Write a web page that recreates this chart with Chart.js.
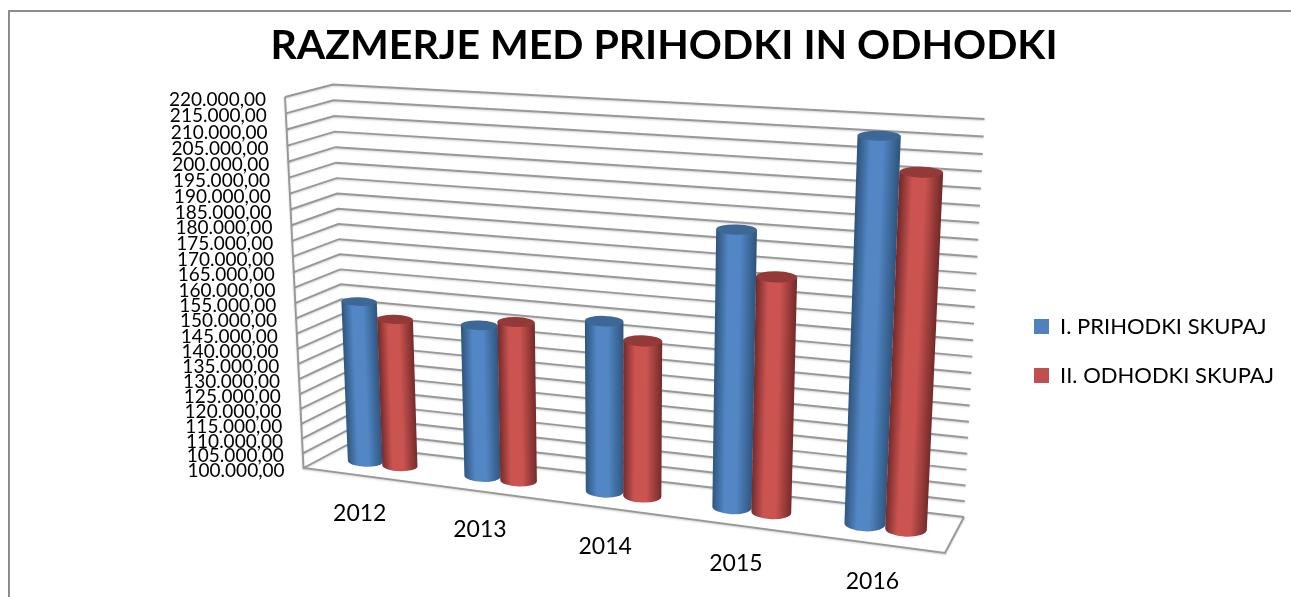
<!DOCTYPE html>
<html>
<head>
<meta charset="utf-8">
<title>Razmerje med prihodki in odhodki</title>
<script src="https://cdn.jsdelivr.net/npm/chart.js@4/dist/chart.umd.min.js"></script>
<style>
  html, body { margin: 0; width: 1291px; height: 597px; overflow: hidden; background: #fff; }
  .frame { position: absolute; left: 8px; top: 10px; width: 1400px; height: 700px; border: 2px solid #8c8c8c; }
  #chart { position: absolute; left: 0; top: 0; }
</style>
</head>
<body>
<div class="frame"></div>
<canvas id="chart" width="1291" height="597"></canvas>
<script>
// ===== DATA =====
const years = ["2012", "2013", "2014", "2015", "2016"];
const prihodki = [153700, 149800, 155000, 186700, 217000];
const odhodki = [149000, 152000, 150000, 173500, 207400];
const axisMin = 100000;
const axisMax = 220000;
const axisStep = 5000;

const FONT = "Lato, Carlito, sans-serif";
const BLUE = { legend: "#4f81bd", edge: "#2f5680", mid: "#5286c4", cap: "#3c6796" };
const RED = { legend: "#c0504d", edge: "#752b2a", mid: "#cb5451", cap: "#933a38" };

// corners of the 3D box on screen: top-left, top-right, bottom-right, bottom-left
const frontQuad = [[285, 97], [965, 143], [945, 553], [303.5, 468]];
const backQuad = [[333, 84.5], [984.5, 119], [964, 517], [347, 445]];

function makeHomography(q) {
  const [[x0, y0], [x1, y1], [x2, y2], [x3, y3]] = q;
  const dx1 = x1 - x2, dx2 = x3 - x2, sx = x0 - x1 + x2 - x3;
  const dy1 = y1 - y2, dy2 = y3 - y2, sy = y0 - y1 + y2 - y3;
  const det = dx1 * dy2 - dx2 * dy1;
  const g = (sx * dy2 - dx2 * sy) / det;
  const h = (dx1 * sy - sx * dy1) / det;
  return (s, t) => {
    const w = g * s + h * t + 1;
    return {
      x: ((x1 - x0 + g * x1) * s + (x3 - x0 + h * x3) * t + x0) / w,
      y: ((y1 - y0 + g * y1) * s + (y3 - y0 + h * y3) * t + y0) / w,
    };
  };
}
const frontPlane = makeHomography(frontQuad);
const backPlane = makeHomography(backQuad);

// chart pixel + depth (0 front, 1 back) -> screen pixel
function project(area, px, py, depth) {
  const s = (px - area.left) / area.width;
  const t = (py - area.top) / area.height;
  const f = frontPlane(s, t);
  const b = backPlane(s, t);
  return { x: f.x + (b.x - f.x) * depth, y: f.y + (b.y - f.y) * depth };
}

function strokeLine(ctx, pts) {
  ctx.beginPath();
  pts.forEach((p, i) => (i ? ctx.lineTo(p.x, p.y) : ctx.moveTo(p.x, p.y)));
  ctx.stroke();
}

function drawBox(chart) {
  const { ctx, chartArea: a, scales } = chart;
  ctx.save();
  ctx.strokeStyle = "#989898";
  ctx.lineWidth = 1.9;
  ctx.shadowColor = "rgba(0,0,0,0.18)";
  ctx.shadowBlur = 2;
  ctx.shadowOffsetY = 1;
  scales.y.ticks.forEach((tick) => {
    const y = scales.y.getPixelForValue(tick.value);
    strokeLine(ctx, [project(a, a.left, y, 0), project(a, a.left, y, 1), project(a, a.right, y, 1)]);
  });
  strokeLine(ctx, [project(a, a.left, a.top, 0), project(a, a.left, a.bottom, 0), project(a, a.right, a.bottom, 0), project(a, a.right, a.bottom, 1)]);
  ctx.restore();
}

function drawCylinder(chart, el, colors) {
  const { ctx, chartArea: a } = chart;
  const hw = el.width / 2;
  const ends = (py) => {
    const l = project(a, el.x - hw, py, 0.5), r = project(a, el.x + hw, py, 0.5);
    // the caps are almost level in the picture, whatever the floor slope is
    const ang = Math.atan2(r.y - l.y, r.x - l.x) * 0.3;
    const rad = Math.hypot(r.x - l.x, r.y - l.y) / 2;
    const c = { x: (l.x + r.x) / 2, y: (l.y + r.y) / 2 };
    const ry = 0.22 * Math.abs(project(a, el.x, py, 1).y - project(a, el.x, py, 0).y);
    return {
      c, ang, rad, ry,
      l: { x: c.x - rad * Math.cos(ang), y: c.y - rad * Math.sin(ang) },
      r: { x: c.x + rad * Math.cos(ang), y: c.y + rad * Math.sin(ang) },
    };
  };
  const top = ends(el.y);
  const bot = ends(el.base);

  // gradient runs across the tilted cylinder axis
  const ax = top.c.x - bot.c.x, ay = top.c.y - bot.c.y, len = Math.hypot(ax, ay);
  const nx = -ay / len, ny = ax / len;
  const grad = ctx.createLinearGradient(bot.c.x - nx * bot.rad, bot.c.y - ny * bot.rad, bot.c.x + nx * bot.rad, bot.c.y + ny * bot.rad);
  grad.addColorStop(0, colors.edge);
  grad.addColorStop(0.3, colors.mid);
  grad.addColorStop(0.6, colors.mid);
  grad.addColorStop(1, colors.edge);

  ctx.save();
  ctx.beginPath();
  ctx.moveTo(top.r.x, top.r.y);
  ctx.lineTo(bot.r.x, bot.r.y);
  ctx.ellipse(bot.c.x, bot.c.y, bot.rad, bot.ry, bot.ang, 0, Math.PI);
  ctx.lineTo(top.l.x, top.l.y);
  ctx.closePath();
  ctx.fillStyle = grad;
  ctx.fill();
  ctx.beginPath();
  ctx.ellipse(top.c.x, top.c.y, top.rad, top.ry, top.ang, 0, Math.PI * 2);
  ctx.fillStyle = colors.cap;
  ctx.fill();
  ctx.restore();
}

function drawAxisLabels(chart) {
  const { ctx, chartArea: a, scales } = chart;
  ctx.save();
  ctx.fillStyle = "#000";
  ctx.font = "19px " + FONT;
  ctx.textAlign = "right";
  ctx.textBaseline = "middle";
  scales.y.ticks.forEach((tick) => {
    const p = project(a, a.left, scales.y.getPixelForValue(tick.value), 0);
    ctx.fillText(tick.label, p.x - 19, p.y + 3);
  });
  ctx.textAlign = "center";
  ctx.font = "23px " + FONT;
  scales.x.ticks.forEach((tick, i) => {
    const p = project(a, scales.x.getPixelForTick(i), a.bottom, 0);
    ctx.fillText(tick.label, p.x - 2, p.y + 38);
  });
  ctx.restore();
}

const box3d = {
  id: "box3d",
  afterLayout(chart) {
    // title sits right of the canvas centre, the frame runs off the picture
    chart.titleBlock.left = 55;
    const lg = chart.legend;
    lg.left = 1007;
    lg.right = 1291;
    lg.width = 284;
    lg.top += 72;
    lg.bottom += 72;
  },
  beforeDatasetsDraw(chart) {
    drawBox(chart);
    const looks = [BLUE, RED];
    years.forEach((_, j) => {
      chart.data.datasets.forEach((_, i) => drawCylinder(chart, chart.getDatasetMeta(i).data[j], looks[i]));
    });
    drawAxisLabels(chart);
    return false; // cylinders replace the flat bars
  },
};

new Chart(document.getElementById("chart"), {
  type: "bar",
  plugins: [box3d],
  data: {
    labels: years,
    datasets: [
      { label: "I. PRIHODKI SKUPAJ", data: prihodki, backgroundColor: BLUE.legend, base: axisMin },
      { label: "II. ODHODKI SKUPAJ", data: odhodki, backgroundColor: RED.legend, base: axisMin },
    ],
  },
  options: {
    responsive: false,
    animation: false,
    layout: { padding: { top: 21, right: 18, bottom: 60, left: 280 } },
    datasets: { bar: { categoryPercentage: 0.6, barPercentage: 1 } },
    scales: {
      x: { grid: { display: false }, border: { display: false }, ticks: { display: false } },
      y: {
        min: axisMin,
        max: axisMax,
        grid: { display: false },
        border: { display: false },
        ticks: {
          display: false,
          stepSize: axisStep,
          callback: (v) => v.toLocaleString("de-DE", { minimumFractionDigits: 2, maximumFractionDigits: 2 }),
        },
      },
    },
    plugins: {
      tooltip: { enabled: false },
      title: {
        display: true,
        text: "RAZMERJE MED PRIHODKI IN ODHODKI",
        color: "#000",
        font: { family: FONT, size: 41, weight: "bold" },
        padding: { top: 0, bottom: 10 },
      },
      legend: {
        position: "right",
        labels: {
          boxWidth: 15,
          boxHeight: 15,
          color: "#000",
          padding: 27,
          font: { family: FONT, size: 22 },
        },
      },
    },
  },
});
</script>
</body>
</html>
